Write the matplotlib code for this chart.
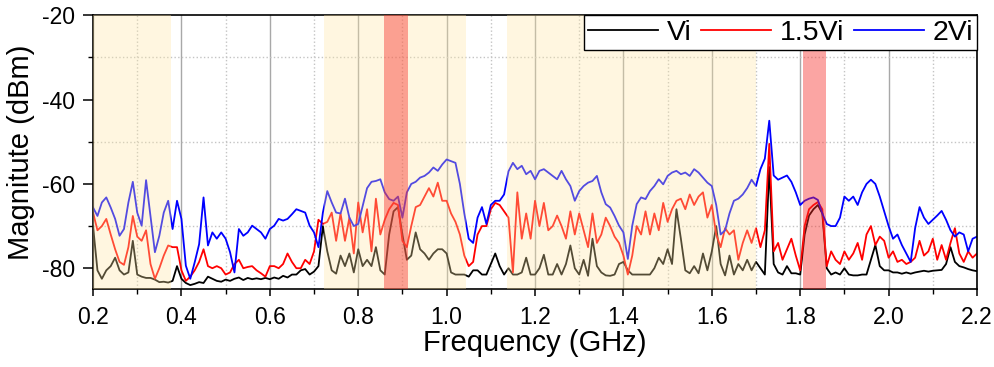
import matplotlib
matplotlib.use("Agg")
import matplotlib.pyplot as plt
import numpy as np
from matplotlib.ticker import MultipleLocator, FormatStrFormatter

plt.rcParams["font.family"] = ["Liberation Sans", "DejaVu Sans"]
plt.rcParams["axes.unicode_minus"] = False

# spectrum analyser sweep, 0.20 .. 2.20 GHz in 10 MHz steps
freq_ghz = np.round(np.arange(0.20, 2.2001, 0.01), 2)

# Vi (dBm)
vi = [
    -70.0, -80.5, -82.5, -80.5, -79.5, -77.5, -80.5, -81.5, -81.0, -73.5,
    -81.5, -82.0, -82.3, -82.3, -82.7, -83.3, -83.2, -83.4, -83.0, -79.5,
    -82.5, -83.5, -84.0, -83.7, -83.3, -83.5, -82.0, -82.5, -83.0, -83.2,
    -82.7, -83.0, -82.5, -82.2, -82.8, -82.3, -82.6, -82.4, -82.6, -82.3,
    -82.6, -82.2, -82.5, -81.8, -82.2, -81.5, -81.5, -80.5, -80.2, -81.5,
    -80.8, -79.5, -70.0, -76.0, -80.5, -81.3, -77.0, -79.5, -76.5, -81.0,
    -75.5, -79.5, -78.0, -79.5, -75.0, -80.5, -81.5, -72.0, -66.5, -65.5,
    -72.0, -78.0, -77.0, -71.5, -75.5, -76.5, -78.0, -76.5, -75.5, -75.5,
    -76.5, -81.0, -81.5, -81.5, -81.5, -82.0, -80.5, -80.5, -81.5, -81.5,
    -79.0, -76.5, -79.5, -81.5, -80.0, -81.5, -81.5, -81.0, -77.5, -81.5,
    -81.5, -80.0, -76.8, -81.5, -81.5, -79.0, -81.5, -79.0, -74.6, -80.0,
    -81.5, -78.0, -81.8, -73.0, -79.5, -81.0, -81.7, -81.8, -81.5, -79.0,
    -78.5, -80.5, -81.5, -81.5, -81.5, -81.5, -81.5, -80.0, -77.5, -79.0,
    -75.5, -79.0, -66.0, -73.0, -80.5, -81.2, -79.5, -81.2, -76.5, -80.5,
    -76.0, -70.0, -79.0, -81.7, -77.0, -81.5, -79.0, -80.5, -78.0, -80.5,
    -78.5, -80.0, -81.5, -56.0, -79.0, -81.0, -81.5, -79.5, -81.2, -81.2,
    -81.5, -72.0, -67.5, -66.0, -65.0, -67.0, -80.0, -81.5, -81.0, -81.5,
    -80.0, -81.5, -81.7, -81.7, -81.5, -81.5, -78.0, -74.5, -79.5, -80.5,
    -80.5, -81.0, -81.0, -81.3, -81.0, -81.3, -81.0, -80.8, -80.6, -80.8,
    -80.6, -80.5, -80.4, -79.0, -75.0, -78.5, -79.5, -79.8, -80.2, -80.5,
    -80.7,
]

# 1.5Vi (dBm)
vi_15 = [
    -66.8, -71.0, -70.0, -68.3, -72.0, -75.5, -78.5, -79.2, -75.0, -67.6,
    -72.5, -73.5, -71.0, -79.0, -82.5, -80.0, -77.0, -74.6, -75.0, -75.0,
    -80.5, -83.0, -82.0, -80.5, -78.5, -75.5, -79.5, -80.0, -79.5, -80.0,
    -81.5, -81.0, -79.0, -78.0, -80.0, -79.7, -79.5, -80.5, -81.2, -82.0,
    -79.5, -79.5, -80.0, -79.0, -76.5, -78.5, -80.0, -80.0, -78.0, -79.0,
    -76.0, -68.5, -69.5, -69.0, -66.8, -73.5, -67.0, -73.5, -68.0, -76.5,
    -64.4, -71.5, -66.0, -76.0, -63.5, -72.0, -68.5, -66.0, -64.5, -65.0,
    -73.5, -75.0, -70.0, -65.5, -65.0, -63.0, -61.0, -63.0, -59.7, -64.0,
    -64.0, -67.0, -69.0, -72.0, -77.0, -79.5, -78.5, -72.0, -70.0, -70.0,
    -66.0, -64.5, -65.0, -66.5, -68.0, -81.0, -62.0, -73.0, -67.0, -73.0,
    -64.0, -70.0, -64.5, -71.0, -70.0, -67.5, -70.0, -73.0, -66.5, -72.0,
    -67.0, -71.0, -75.0, -67.0, -74.0, -72.0, -68.0, -70.0, -72.5, -74.0,
    -77.0, -81.5, -77.0, -70.0, -72.0, -66.5, -72.0, -67.0, -71.0, -64.5,
    -69.0, -66.0, -64.0, -63.5, -66.0, -62.5, -65.0, -63.0, -62.0, -68.0,
    -65.0, -72.0, -75.0, -70.5, -72.0, -71.0, -78.0, -74.0, -71.0, -74.0,
    -70.5, -75.0, -71.0, -50.5, -76.0, -74.0, -78.0, -75.5, -73.0, -77.0,
    -80.5, -70.0, -66.0, -65.0, -64.3, -66.0, -79.5, -76.0, -78.0, -79.0,
    -76.0, -78.0, -76.5, -74.0, -78.0, -72.0, -70.0, -74.5, -72.5, -73.5,
    -77.5, -76.0, -78.5, -78.0, -79.0, -78.5, -77.5, -73.5, -77.0, -76.0,
    -73.0, -78.0, -74.5, -78.0, -74.0, -70.5, -76.5, -78.5, -76.0, -77.5,
    -76.5,
]

# 2Vi (dBm)
vi_2 = [
    -65.6, -67.6, -64.4, -63.2, -65.6, -68.3, -72.3, -70.7, -64.4, -59.5,
    -66.8, -69.9, -59.1, -67.6, -76.2, -72.3, -66.8, -64.0, -70.7, -64.0,
    -68.3, -79.4, -82.5, -78.6, -74.3, -63.2, -74.6, -71.5, -73.0, -71.5,
    -73.0, -76.2, -81.0, -70.7, -72.3, -71.5, -69.9, -70.7, -71.5, -73.0,
    -70.7, -69.9, -68.3, -68.7, -68.3, -67.2, -66.0, -66.4, -66.8, -69.9,
    -71.5, -75.0, -66.8, -61.7, -64.4, -66.8, -67.0, -63.5, -68.0, -70.0,
    -69.5, -65.2, -61.0, -59.5, -59.3, -58.9, -62.0, -63.6, -64.0, -63.0,
    -68.0, -62.0, -60.0, -59.5, -58.5, -58.1, -57.3, -56.1, -56.9, -55.4,
    -54.2, -54.6, -55.0, -60.0, -67.0, -73.0, -74.0, -68.0, -65.5, -69.5,
    -65.0, -64.0, -64.0, -62.5, -57.0, -55.0, -56.5, -55.7, -57.7, -56.9,
    -58.9, -56.9, -56.5, -57.3, -58.1, -58.9, -56.9, -58.9, -60.5, -64.0,
    -61.7, -60.5, -59.7, -59.3, -58.1, -62.0, -64.8, -65.6, -67.6, -69.9,
    -71.5, -77.8, -69.9, -64.8, -63.2, -63.6, -61.7, -60.5, -58.9, -60.1,
    -58.1, -57.3, -56.9, -57.7, -57.3, -58.1, -56.5, -57.3, -58.5, -59.7,
    -60.5, -65.0, -72.0, -71.0, -67.0, -64.0, -63.5, -62.5, -61.0, -59.0,
    -60.5, -56.5, -54.0, -45.0, -58.0, -59.0, -58.5, -58.0, -59.5, -62.0,
    -65.0, -64.0, -63.5, -63.2, -63.8, -67.0, -69.5, -70.0, -70.0, -68.0,
    -63.0, -64.0, -63.0, -65.0, -62.0, -60.0, -59.0, -60.0, -63.0, -66.5,
    -70.0, -73.0, -72.0, -74.5, -76.5, -78.5, -70.5, -65.5, -68.0, -69.5,
    -68.5, -67.5, -66.4, -68.5, -71.0, -72.5, -71.5, -72.0, -76.0, -73.0,
    -72.5,
]

# shaded bands (GHz)
broad_bands = [(0.200, 0.376), (0.722, 1.043), (1.137, 1.701)]
narrow_bands = [(0.858, 0.912), (1.806, 1.859)]

fig = plt.figure(figsize=(9.94, 3.67), dpi=100)
ax = fig.add_axes([0.0936, 0.2117, 0.8893, 0.7466])

ax.plot(freq_ghz, vi, color="black", lw=1.3, label="Vi", zorder=2)
ax.plot(freq_ghz, vi_15, color="#ff0000", lw=1.3, label="1.5Vi", zorder=2)
ax.plot(freq_ghz, vi_2, color="#0000ff", lw=1.3, label="2Vi", zorder=2)

for lo, hi in broad_bands:
    ax.axvspan(lo, hi, color=(1.0, 0.90, 0.64), alpha=0.33, lw=0, zorder=3)
for lo, hi in narrow_bands:
    ax.axvspan(lo, hi, color=(0.97, 0.16, 0.14), alpha=0.42, lw=0, zorder=3)

ax.set_xlim(0.2, 2.2)
ax.set_ylim(-85, -20)
ax.xaxis.set_major_locator(MultipleLocator(0.2))
ax.xaxis.set_minor_locator(MultipleLocator(0.1))
ax.xaxis.set_major_formatter(FormatStrFormatter("%.1f"))
ax.yaxis.set_major_locator(MultipleLocator(20))
ax.yaxis.set_minor_locator(MultipleLocator(10))

ax.grid(True, which="major", axis="x", color="#a8a8a8", lw=1.0, ls="-", zorder=1)
ax.grid(True, which="minor", axis="x", color="#c4c4c4", lw=1.0, ls=":", zorder=1)
ax.grid(True, which="minor", axis="y", color="#c4c4c4", lw=1.0, ls=":", zorder=1)
ax.set_axisbelow(True)

ax.tick_params(which="major", direction="out", width=1.1, labelsize=16.5)
ax.tick_params(axis="x", which="major", length=5, pad=7)
ax.tick_params(axis="y", which="major", length=7, pad=6)
ax.tick_params(which="minor", direction="out", length=3.5, width=1.0)
for sp in ax.spines.values():
    sp.set_linewidth(1.2)

ax.set_xlabel("Frequency (GHz)", fontsize=21, labelpad=0)
ax.set_ylabel("Magnitute (dBm)", fontsize=21, labelpad=5)

leg = ax.legend(loc="upper right", ncol=3, fontsize=20.5, frameon=True, fancybox=False,
                edgecolor="black", framealpha=1.0, borderaxespad=0, borderpad=0.15,
                handlelength=2.45, handletextpad=0.3, columnspacing=0.35)
leg.get_frame().set_linewidth(1.0)
leg.set_zorder(10)

fig.savefig("out.png", dpi=100)
